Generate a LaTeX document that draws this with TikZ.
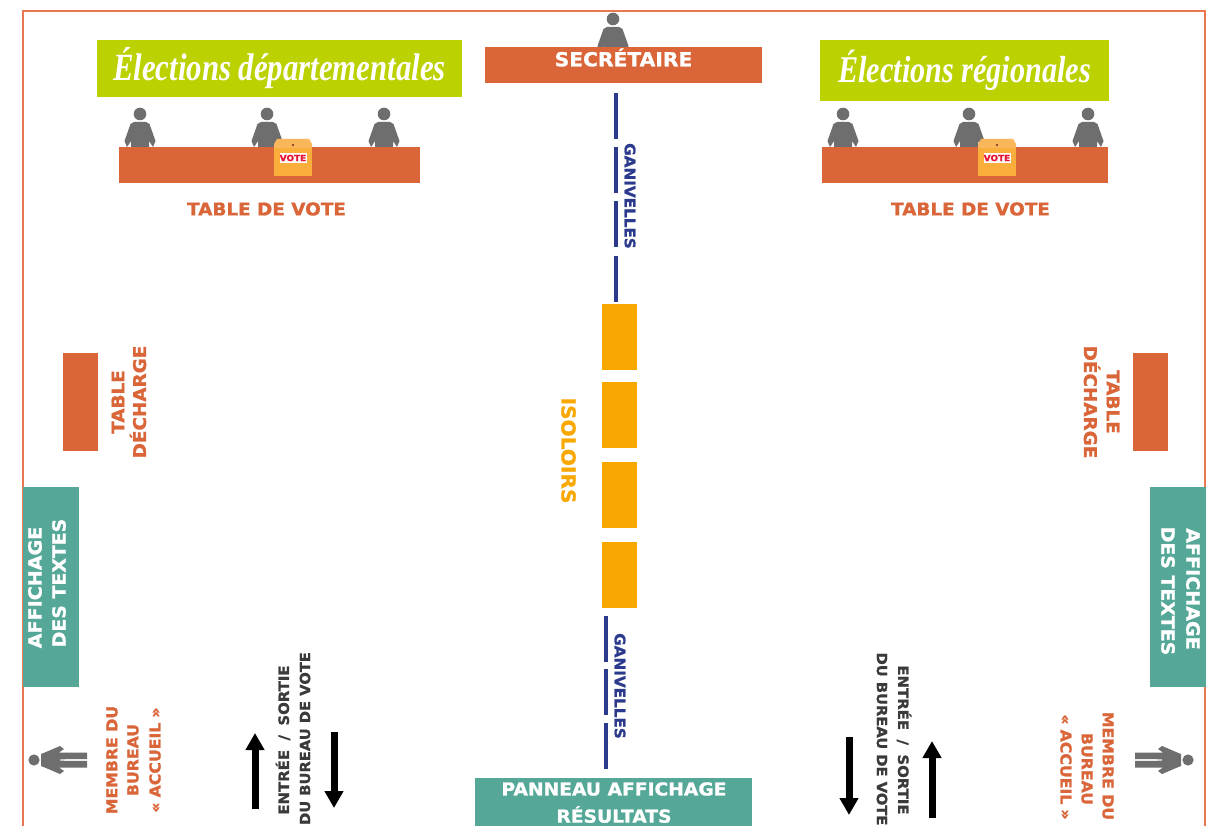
\documentclass[tikz,border=0pt]{standalone}
\usepackage{fontspec}
\setmainfont{DejaVu Sans}[BoldFeatures={FakeStretch=1.05,FakeBold=1.2}]
\newfontfamily\titlefont{Liberation Serif}[BoldItalicFont={* Bold Italic}]
\usetikzlibrary{arrows.meta}
\definecolor{cOrange}{HTML}{D96539}
\definecolor{cFrame}{HTML}{E9774F}
\definecolor{cGreen}{HTML}{BCD100}
\definecolor{cTeal}{HTML}{55A898}
\definecolor{cNavy}{HTML}{2B3A8C}
\definecolor{cGrey}{HTML}{6E6E6E}
\definecolor{cIso}{HTML}{F8A800}
\definecolor{cBallot}{HTML}{FBAE3C}
\definecolor{cLid}{HTML}{F9B65A}
\definecolor{cDark}{HTML}{3A3A3A}
\definecolor{cRed}{HTML}{E8102F}
\tikzset{
  x=1pt,y=-1pt,
  boxn/.style={draw=none,inner sep=0pt,outer sep=0pt},
  lab/.style={inner sep=0pt,align=center,font=\bfseries\fontsize{#1}{#1}\selectfont},
  lab/.default=18,
  orangeText/.style={text=cOrange},
  navyText/.style={text=cNavy,lab=14.5},
  fence/.style={draw=cNavy,line width=4pt},
  bigarrow/.style={draw=black,line width=7pt,-{Triangle[width=18pt,length=17pt]}},
  bust/.pic={
    \fill[cGrey] (0,0) circle (6.3);
    \fill[cGrey] (-6,8) -- (6,8) -- (9.5,10) -- (15.5,27) -- (13,33) -- (9,27) -- (9,33) -- (-9,33) -- (-9,27) -- (-13,33) -- (-15.5,27) -- (-9.5,10) -- cycle;
  },
  fullbody/.pic={
    \fill[cGrey] (0,0) circle (5.6);
    \fill[cGrey] (7,-6) -- (12,-8) -- (26,-14) -- (30,-11) -- (25,-7.5) -- (53,-7.5) -- (53,-1) -- (26,-.7) -- (26,.7) -- (53,1) -- (53,7.5) -- (25,7.5) -- (30,11) -- (26,14) -- (12,8) -- (7,6) -- cycle;
  },
  ballot/.pic={
    \fill[cBallot] (-19,9) rectangle (19,37);
    \fill[cLid] (-16,0) -- (16,0) -- (19,5) -- (19,9) -- (-19,9) -- (-19,5) -- cycle;
    \fill[cOrange!70!black] (-1,5) rectangle (1,7);
    \node[boxn,fill=white,minimum width=27pt,minimum height=10pt,text=cRed,font=\bfseries\fontsize{8.5}{8.5}\selectfont] (vote) at (0,19) {VOTE};
  },
}
\begin{document}
\begin{tikzpicture}
\clip (0,0) rectangle (1217,826);
\fill[white] (0,0) rectangle (1217,826);
% frame
\coordinate (fa) at (23,840); \coordinate (fb) at (23,11); \coordinate (fc) at (1205,11); \coordinate (fd) at (1205,840);
\draw[cFrame,line width=1.3pt] (fa) -- (fb) -- (fc) -- (fd);

% persons
\pic at (140,114) {bust};
\pic at (267,114) {bust};
\pic at (384,114) {bust};
\pic at (843,114) {bust};
\pic at (969,114) {bust};
\pic at (1088,114) {bust};
\pic at (613,19) {bust};
\pic at (34,760) {fullbody};
\pic[xscale=-1] at (1188,760) {fullbody};

% titles
\node[boxn,fill=cGreen,minimum width=365pt,minimum height=57pt] (titleL) at (279.5,68.5) {};
\node[inner sep=0pt,text=white] (titleLt) at (279.5,68) {\scalebox{1}[1.25]{\titlefont\bfseries\itshape\fontsize{30.8}{31}\selectfont Élections départementales}};
\node[boxn,fill=cGreen,minimum width=289pt,minimum height=61pt] (titleR) at (964.5,70.5) {};
\node[inner sep=0pt,text=white] (titleRt) at (964.5,70) {\scalebox{1}[1.25]{\titlefont\bfseries\itshape\fontsize{30.2}{31}\selectfont Élections régionales}};

% tables
\node[boxn,fill=cOrange,minimum width=301pt,minimum height=36pt] (tableL) at (269.5,165) {};
\node[boxn,fill=cOrange,minimum width=286pt,minimum height=36pt] (tableR) at (965,165) {};
\node[boxn,fill=cOrange,minimum width=277pt,minimum height=36pt] (sec) at (623.5,65) {};
\node[lab=19.3,text=white] (sect) at (623.5,57.5) {SECRÉTAIRE};
\pic at (293,139) {ballot};
\pic at (997,139) {ballot};
\node[lab=17.5,orangeText] (tvL) at (266.5,209) {TABLE DE VOTE};
\node[lab=17.5,orangeText] (tvR) at (970.5,209) {TABLE DE VOTE};

% fences
\foreach \i/\a/\b in {1/93/139,2/147/193,3/201/247,4/256/302}{
  \coordinate (ga\i) at (615.5,\a); \coordinate (gb\i) at (615.5,\b);
  \draw[fence] (ga\i) -- (gb\i);
}
\foreach \i/\a/\b in {1/616/662,2/669/715,3/723/769}{
  \coordinate (ha\i) at (605.5,\a); \coordinate (hb\i) at (605.5,\b);
  \draw[fence] (ha\i) -- (hb\i);
}
\node[navyText,rotate=-90] (ganA) at (630,196) {GANIVELLES};
\node[navyText,rotate=-90] (ganB) at (620,686) {GANIVELLES};

% isoloirs
\foreach \i/\c in {1/337,2/415,3/495,4/575}{
  \node[boxn,fill=cIso,minimum width=35pt,minimum height=66pt] (iso\i) at (619.5,\c) {};
}
\node[lab=19.2,text=cIso,rotate=-90] (isot) at (568.5,450.5) {ISOLOIRS};

% décharge
\node[boxn,fill=cOrange,minimum width=35pt,minimum height=98pt] (decL) at (80.5,402) {};
\node[boxn,fill=cOrange,minimum width=35pt,minimum height=98pt] (decR) at (1150.5,402) {};
\node[lab=17.5,orangeText,rotate=90] (decLa) at (118,402) {TABLE};
\node[lab=17.5,orangeText,rotate=90] (decLb) at (138,402) {DÉCHARGE};
\node[lab=17.5,orangeText,rotate=-90] (decRa) at (1113,402) {TABLE};
\node[lab=17.5,orangeText,rotate=-90] (decRb) at (1092,402) {DÉCHARGE};

% affichage
\node[boxn,fill=cTeal,minimum width=56pt,minimum height=200pt] (affL) at (51,587) {};
\node[boxn,fill=cTeal,minimum width=56pt,minimum height=200pt] (affR) at (1178,587) {};
\node[lab=18.2,text=white,rotate=90] (affLa) at (35,587.5) {AFFICHAGE};
\node[lab=18,text=white,rotate=90] (affLb) at (59,583) {DES TEXTES};
\node[lab=18.2,text=white,rotate=-90] (affRa) at (1193,589) {AFFICHAGE};
\node[lab=18,text=white,rotate=-90] (affRb) at (1168,591) {DES TEXTES};

% accueil
\node[lab=15,orangeText,rotate=90] (mLa) at (112,760) {MEMBRE DU};
\node[lab=15,orangeText,rotate=90] (mLb) at (133,760) {BUREAU};
\node[lab=15,orangeText,rotate=90] (mLc) at (155,760) {«\,\,ACCUEIL\,\,»};
\node[lab=15,orangeText,rotate=-90] (mRa) at (1108,766) {MEMBRE DU};
\node[lab=15,orangeText,rotate=-90] (mRb) at (1087,769) {BUREAU};
\node[lab=15,orangeText,rotate=-90] (mRc) at (1066,767) {«\,\,ACCUEIL\,\,»};

% entrée / sortie
\node[lab=14.2,text=cDark,rotate=90] (esLa) at (283,740) {ENTRÉE\,\,\,\,/\,\,\,\,SORTIE};
\node[lab=14,text=cDark,rotate=90] (esLb) at (305,738.5) {DU BUREAU DE VOTE};
\node[lab=14.2,text=cDark,rotate=-90] (esRa) at (904,740) {ENTRÉE\,\,\,\,/\,\,\,\,SORTIE};
\node[lab=14,text=cDark,rotate=-90] (esRb) at (882,739) {DU BUREAU DE VOTE};
\coordinate (a1s) at (255,809); \coordinate (a1e) at (255,733);
\coordinate (a2s) at (334,732); \coordinate (a2e) at (334,808);
\coordinate (a3s) at (849,737); \coordinate (a3e) at (849,815);
\coordinate (a4s) at (932,818); \coordinate (a4e) at (932,741);
\draw[bigarrow] (a1s) -- (a1e);
\draw[bigarrow] (a2s) -- (a2e);
\draw[bigarrow] (a3s) -- (a3e);
\draw[bigarrow] (a4s) -- (a4e);

% panneau
\node[boxn,fill=cTeal,minimum width=277pt,minimum height=60pt] (pan) at (613.5,808) {};
\node[lab=17.8,text=white] (pana) at (614,789) {PANNEAU AFFICHAGE};
\node[lab=17.8,text=white] (panb) at (614,814.5) {RÉSULTATS};
\end{tikzpicture}
\end{document}
